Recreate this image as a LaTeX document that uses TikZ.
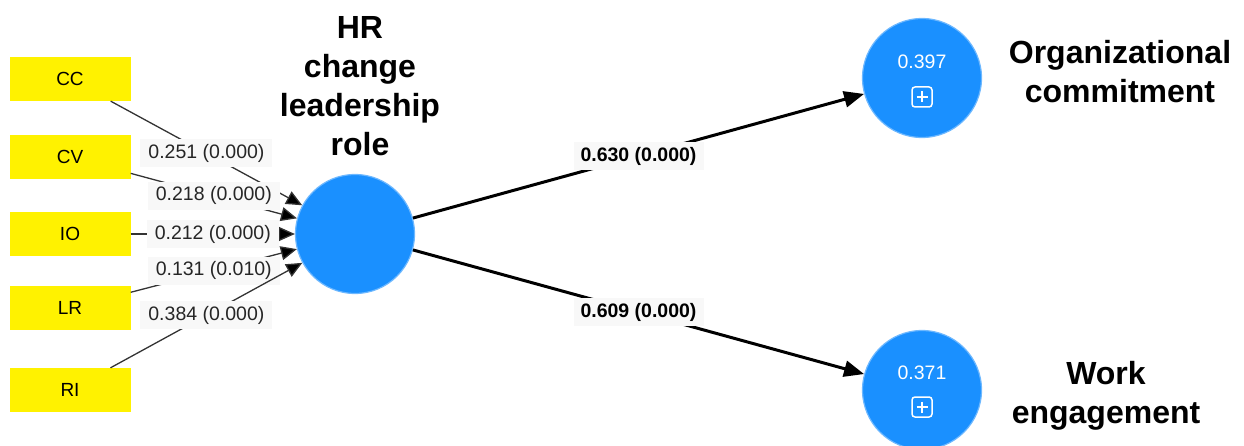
\documentclass[tikz,border=0pt]{standalone}
\usepackage{fontspec}
\setmainfont{Liberation Sans}
\usetikzlibrary{arrows.meta}
\definecolor{lvblue}{HTML}{1A90FF}
\definecolor{lvrim}{HTML}{6DB8FF}
\definecolor{labbg}{HTML}{F8F8F8}
\tikzset{
  ind/.style={fill=yellow, minimum width=121pt, minimum height=44pt, inner sep=0pt,
    font=\fontsize{19}{22}\selectfont},
  lv/.style={circle, fill=lvblue, draw=lvrim, line width=1.2pt, minimum size=119pt, inner sep=0pt},
  head/.style={font=\fontsize{32}{39}\selectfont\bfseries, align=center, inner sep=0pt, anchor=north},
  wlink/.style={draw=black!80, line width=1.3pt, -{Triangle[length=16pt,width=14pt,fill=black]}},
  slink/.style={draw=black, line width=3pt, -{Triangle[length=20pt,width=16pt]}},
  wlab/.style={fill=labbg, text=black!85, inner xsep=8pt, inner ysep=5pt,
    font=\fontsize{19.5}{22}\selectfont, pos=0.5},
  slab/.style={fill=labbg, text=black, inner xsep=7pt, inner ysep=5pt,
    font=\fontsize{19.5}{22}\selectfont\bfseries, pos=0.5},
  rsq/.style={text=white, font=\fontsize{19.5}{22}\selectfont},
  plusbox/.style={draw=white, line width=1.5pt, rounded corners=3pt, minimum size=20pt,
    inner sep=0pt,
    path picture={\draw[white, line width=1.5pt]
      ([yshift=-4.5pt]path picture bounding box.north) -- ([yshift=4.5pt]path picture bounding box.south)
      ([xshift=4.5pt]path picture bounding box.west) -- ([xshift=-4.5pt]path picture bounding box.east);}}
}
\begin{document}
\begin{tikzpicture}[x=1pt, y=-1pt]
\useasboundingbox (0,0) rectangle (1244,446);

% indicator blocks
\node[ind] (CC) at (70,79)  {CC};
\node[ind] (CV) at (70,157) {CV};
\node[ind] (IO) at (70,234) {IO};
\node[ind] (LR) at (70,308) {LR};
\node[ind] (RI) at (70,390) {RI};

% latent variables
\node[lv] (HR) at (355,234) {};
\node[lv] (OC) at (922,78)  {};
\node[lv] (WE) at (922,390) {};

% R-squared values and expand markers
\node[rsq] (OCr) at (922,62) {0.397};
\node[plusbox] (OCp) at (922,97) {};
\node[rsq] (WEr) at (922,373) {0.371};
\node[plusbox] (WEp) at (922,407) {};

% construct names
\node[head] (HRt) at (360,16) {HR\\change\\leadership\\role};
\node[head] (OCt) at (1120,40) {Organizational\\commitment};
\node[head] (WEt) at (1106,361) {Work\\engagement};

% outer weights
\draw[wlink] (CC) -- node[wlab] (wCC) {0.251 (0.000)} (HR);
\draw[wlink] (CV) -- node[wlab] (wCV) {0.218 (0.000)} (HR);
\draw[wlink] (IO) -- node[wlab] (wIO) {0.212 (0.000)} (HR);
\draw[wlink] (LR) -- node[wlab] (wLR) {0.131 (0.010)} (HR);
\draw[wlink] (RI) -- node[wlab] (wRI) {0.384 (0.000)} (HR);

% path coefficients
\draw[slink] (HR) -- node[slab] (pOC) {0.630 (0.000)} (OC);
\draw[slink] (HR) -- node[slab] (pWE) {0.609 (0.000)} (WE);
\end{tikzpicture}
\end{document}
